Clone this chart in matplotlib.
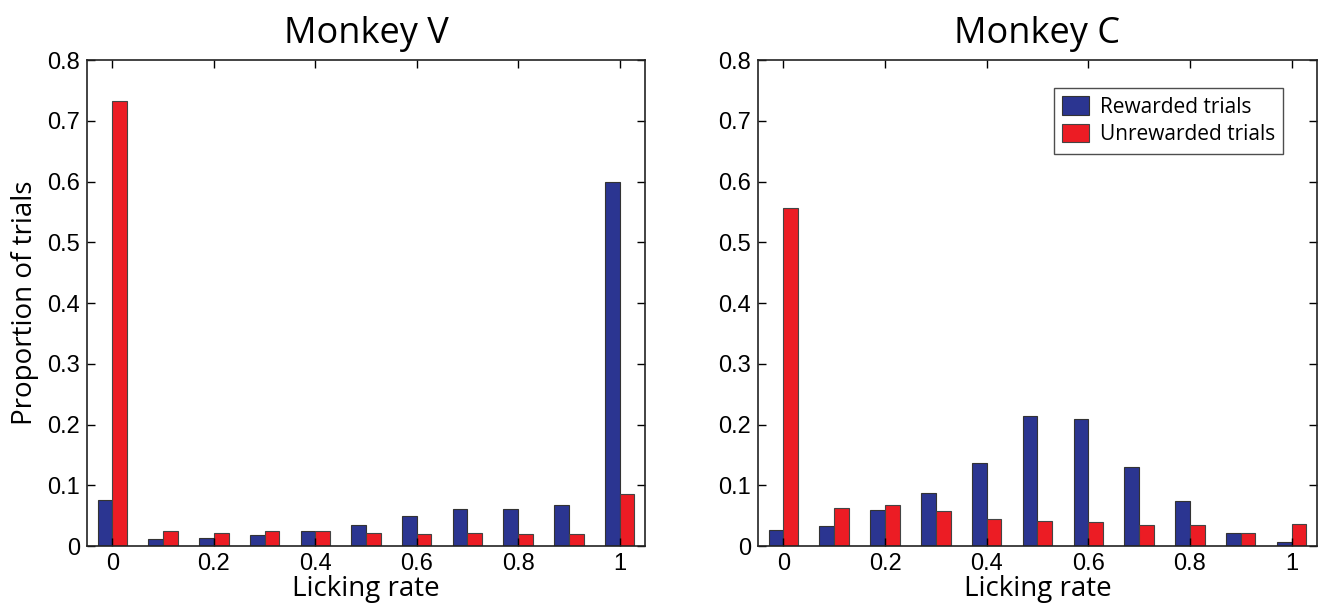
import numpy as np
import matplotlib.pyplot as plt

# licking rate bins
rates = [0, 0.1, 0.2, 0.3, 0.4, 0.5, 0.6, 0.7, 0.8, 0.9, 1.0]

# Monkey V
v_rewarded = [0.075, 0.011, 0.013, 0.018, 0.024, 0.035, 0.050, 0.061, 0.061, 0.067, 0.600]
v_unrewarded = [0.732, 0.024, 0.022, 0.024, 0.024, 0.022, 0.019, 0.022, 0.019, 0.019, 0.086]

# Monkey C
c_rewarded = [0.027, 0.033, 0.059, 0.087, 0.136, 0.214, 0.209, 0.130, 0.074, 0.021, 0.007]
c_unrewarded = [0.557, 0.062, 0.067, 0.057, 0.044, 0.042, 0.040, 0.035, 0.034, 0.021, 0.037]

xticks = [0, 0.2, 0.4, 0.6, 0.8, 1]
xticklabels = ['0', '0.2', '0.4', '0.6', '0.8', '1']
yticks = [0, 0.1, 0.2, 0.3, 0.4, 0.5, 0.6, 0.7, 0.8]

blue = '#2b3591'
red = '#ec1c24'
label_font = 'Open Sans'
tick_font = 'Liberation Sans'

fig = plt.figure(figsize=(13.18, 6.12), dpi=100)
ax1 = fig.add_axes([0.066, 0.1078, 0.4234, 0.794])
ax2 = fig.add_axes([0.5751, 0.1078, 0.4241, 0.794])

w = 0.029
x = np.array(rates)

for ax, rew, unrew, title in [(ax1, v_rewarded, v_unrewarded, 'Monkey V'),
                              (ax2, c_rewarded, c_unrewarded, 'Monkey C')]:
    ax.bar(x - w / 2, rew, width=w, color=blue, edgecolor='#333333', linewidth=0.8,
           label='Rewarded trials')
    ax.bar(x + w / 2, unrew, width=w, color=red, edgecolor='#444444', linewidth=0.8,
           label='Unrewarded trials')
    ax.set_xlim(-0.05, 1.05)
    ax.set_ylim(0, 0.8)
    ax.set_xticks(xticks)
    ax.set_xticklabels(xticklabels, fontfamily=tick_font, fontsize=17)
    ax.set_yticks(yticks)
    ax.set_yticklabels([f'{t:g}' for t in yticks], fontfamily=tick_font, fontsize=17)
    ax.tick_params(direction='in', top=True, right=True, length=6, width=1, pad=5)
    for s in ax.spines.values():
        s.set_linewidth(1.2)
        s.set_color('#222222')
    ax.set_title(title, fontfamily=label_font, fontsize=26, pad=12)
    ax.set_xlabel('Licking rate', fontfamily=label_font, fontsize=20, labelpad=0)

ax1.set_ylabel('Proportion of trials', fontfamily=label_font, fontsize=20, labelpad=6)

# legend box sits a bit inside the top-right corner
leg = ax2.legend(loc='upper right', bbox_to_anchor=(0.94, 0.943), borderaxespad=0,
                 frameon=True, fancybox=False, edgecolor='#222222', borderpad=0.4,
                 handlelength=1.3, handleheight=1.0, handletextpad=0.5,
                 labelspacing=0.3, prop={'family': label_font, 'size': 15})
leg.get_frame().set_linewidth(1.0)

fig.savefig('out.png', dpi=100)
